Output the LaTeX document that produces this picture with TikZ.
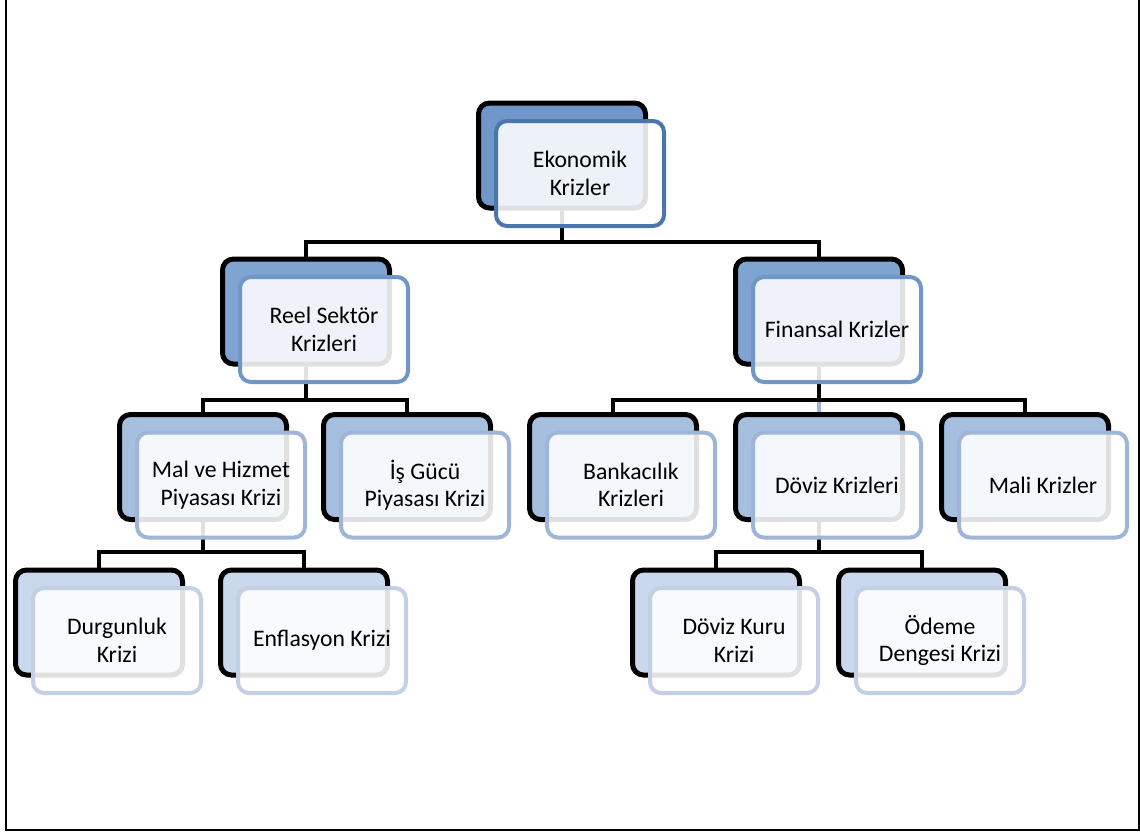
\documentclass[tikz,border=0pt]{standalone}
\usepackage{fontspec}
\setmainfont{Carlito}
\definecolor{cAb}{HTML}{6F97C9}
\definecolor{cAf}{HTML}{4A76AE}
\definecolor{cBb}{HTML}{7FA4D2}
\definecolor{cBf}{HTML}{7096C8}
\definecolor{cCb}{HTML}{A6BFDF}
\definecolor{cCf}{HTML}{9FB5D8}
\definecolor{cDb}{HTML}{C9D8EC}
\definecolor{cDf}{HTML}{C3CFE4}
\pgfdeclarelayer{bg}
\pgfsetlayers{bg,main}
\begin{document}
\begin{tikzpicture}[x=1pt,y=-1pt,
  back/.style={draw=black, line width=5pt, rounded corners=11pt, minimum width=167pt, minimum height=105pt, inner sep=0pt},
  front/.style={draw, fill=white, fill opacity=0.88, text opacity=1, line width=4pt, rounded corners=11pt, minimum width=168pt, minimum height=105pt, inner sep=0pt, align=center, font=\fontsize{23.7}{27.5}\selectfont},
  conn/.style={line width=4.5pt},
  frame/.style={line width=2pt}]
\useasboundingbox (0,0) rectangle (1140,831);
\draw[frame] (6,0) -- (6,829.5) -- (1139,829.5) -- (1139,0);

% back boxes
\node[back, fill=cAb] (bA) at (562,155.5) {};
\node[back, fill=cBb] (bR) at (306,311.5) {};
\node[back, fill=cBb] (bF) at (819,311.5) {};
\node[back, fill=cCb] (bM) at (203,467) {};
\node[back, fill=cCb] (bI) at (407,467) {};
\node[back, fill=cCb] (bB) at (613,467) {};
\node[back, fill=cCb] (bD) at (819,467) {};
\node[back, fill=cCb] (bL) at (1025,467) {};
\node[back, fill=cDb] (bG) at (99,622.5) {};
\node[back, fill=cDb] (bE) at (304,622.5) {};
\node[back, fill=cDb] (bK) at (716,622.5) {};
\node[back, fill=cDb] (bO) at (922,622.5) {};

% front boxes
\node[front, draw=cAf] (fA) at (580,173.5) {Ekonomik\\Krizler};
\node[front, draw=cBf] (fR) at (324,329.5) {Reel Sektör\\Krizleri};
\node[front, draw=cBf] (fF) at (837,329.5) {Finansal Krizler};
\node[front, draw=cCf] (fM) at (221,485) {Mal ve Hizmet\\Piyasası Krizi};
\node[front, draw=cCf] (fI) at (425,485) {İş Gücü\\Piyasası Krizi};
\node[front, draw=cCf] (fB) at (631,485) {Bankacılık\\Krizleri};
\node[front, draw=cCf] (fD) at (837,485) {Döviz Krizleri};
\node[front, draw=cCf] (fL) at (1043,485) {Mali Krizler};
\node[front, draw=cDf] (fG) at (117,640.5) {Durgunluk\\Krizi};
\node[front, draw=cDf] (fE) at (322,640.5) {Enflasyon Krizi};
\node[front, draw=cDf] (fK) at (734,640.5) {Döviz Kuru\\Krizi};
\node[front, draw=cDf] (fO) at (940,640.5) {Ödeme\\Dengesi Krizi};

% connectors
\coordinate (jA) at (562,242);
\coordinate (jR) at (306,400);
\coordinate (jF) at (819,400);
\coordinate (jM) at (203,552);
\coordinate (jD) at (819,552);
\begin{pgfonlayer}{bg}
\draw[conn] (bA.south) -- (jA);
\draw[conn] (jA) -| (bR.north);
\draw[conn] (jA) -| (bF.north);
\draw[conn] (bR.south) -- (jR);
\draw[conn] (jR) -| (bM.north);
\draw[conn] (jR) -| (bI.north);
\draw[conn] (bF.south) -- (jF);
\draw[conn] (jF) -| (bB.north);
\draw[conn] (jF) -| (bL.north);
\draw[conn, cCf] ([yshift=-2.25pt]jF) -- (bD.north);
\draw[conn] (bM.south) -- (jM);
\draw[conn] (jM) -| (bG.north);
\draw[conn] (jM) -| (bE.north);
\draw[conn] (bD.south) -- (jD);
\draw[conn] (jD) -| (bK.north);
\draw[conn] (jD) -| (bO.north);
\end{pgfonlayer}
\end{tikzpicture}
\end{document}
